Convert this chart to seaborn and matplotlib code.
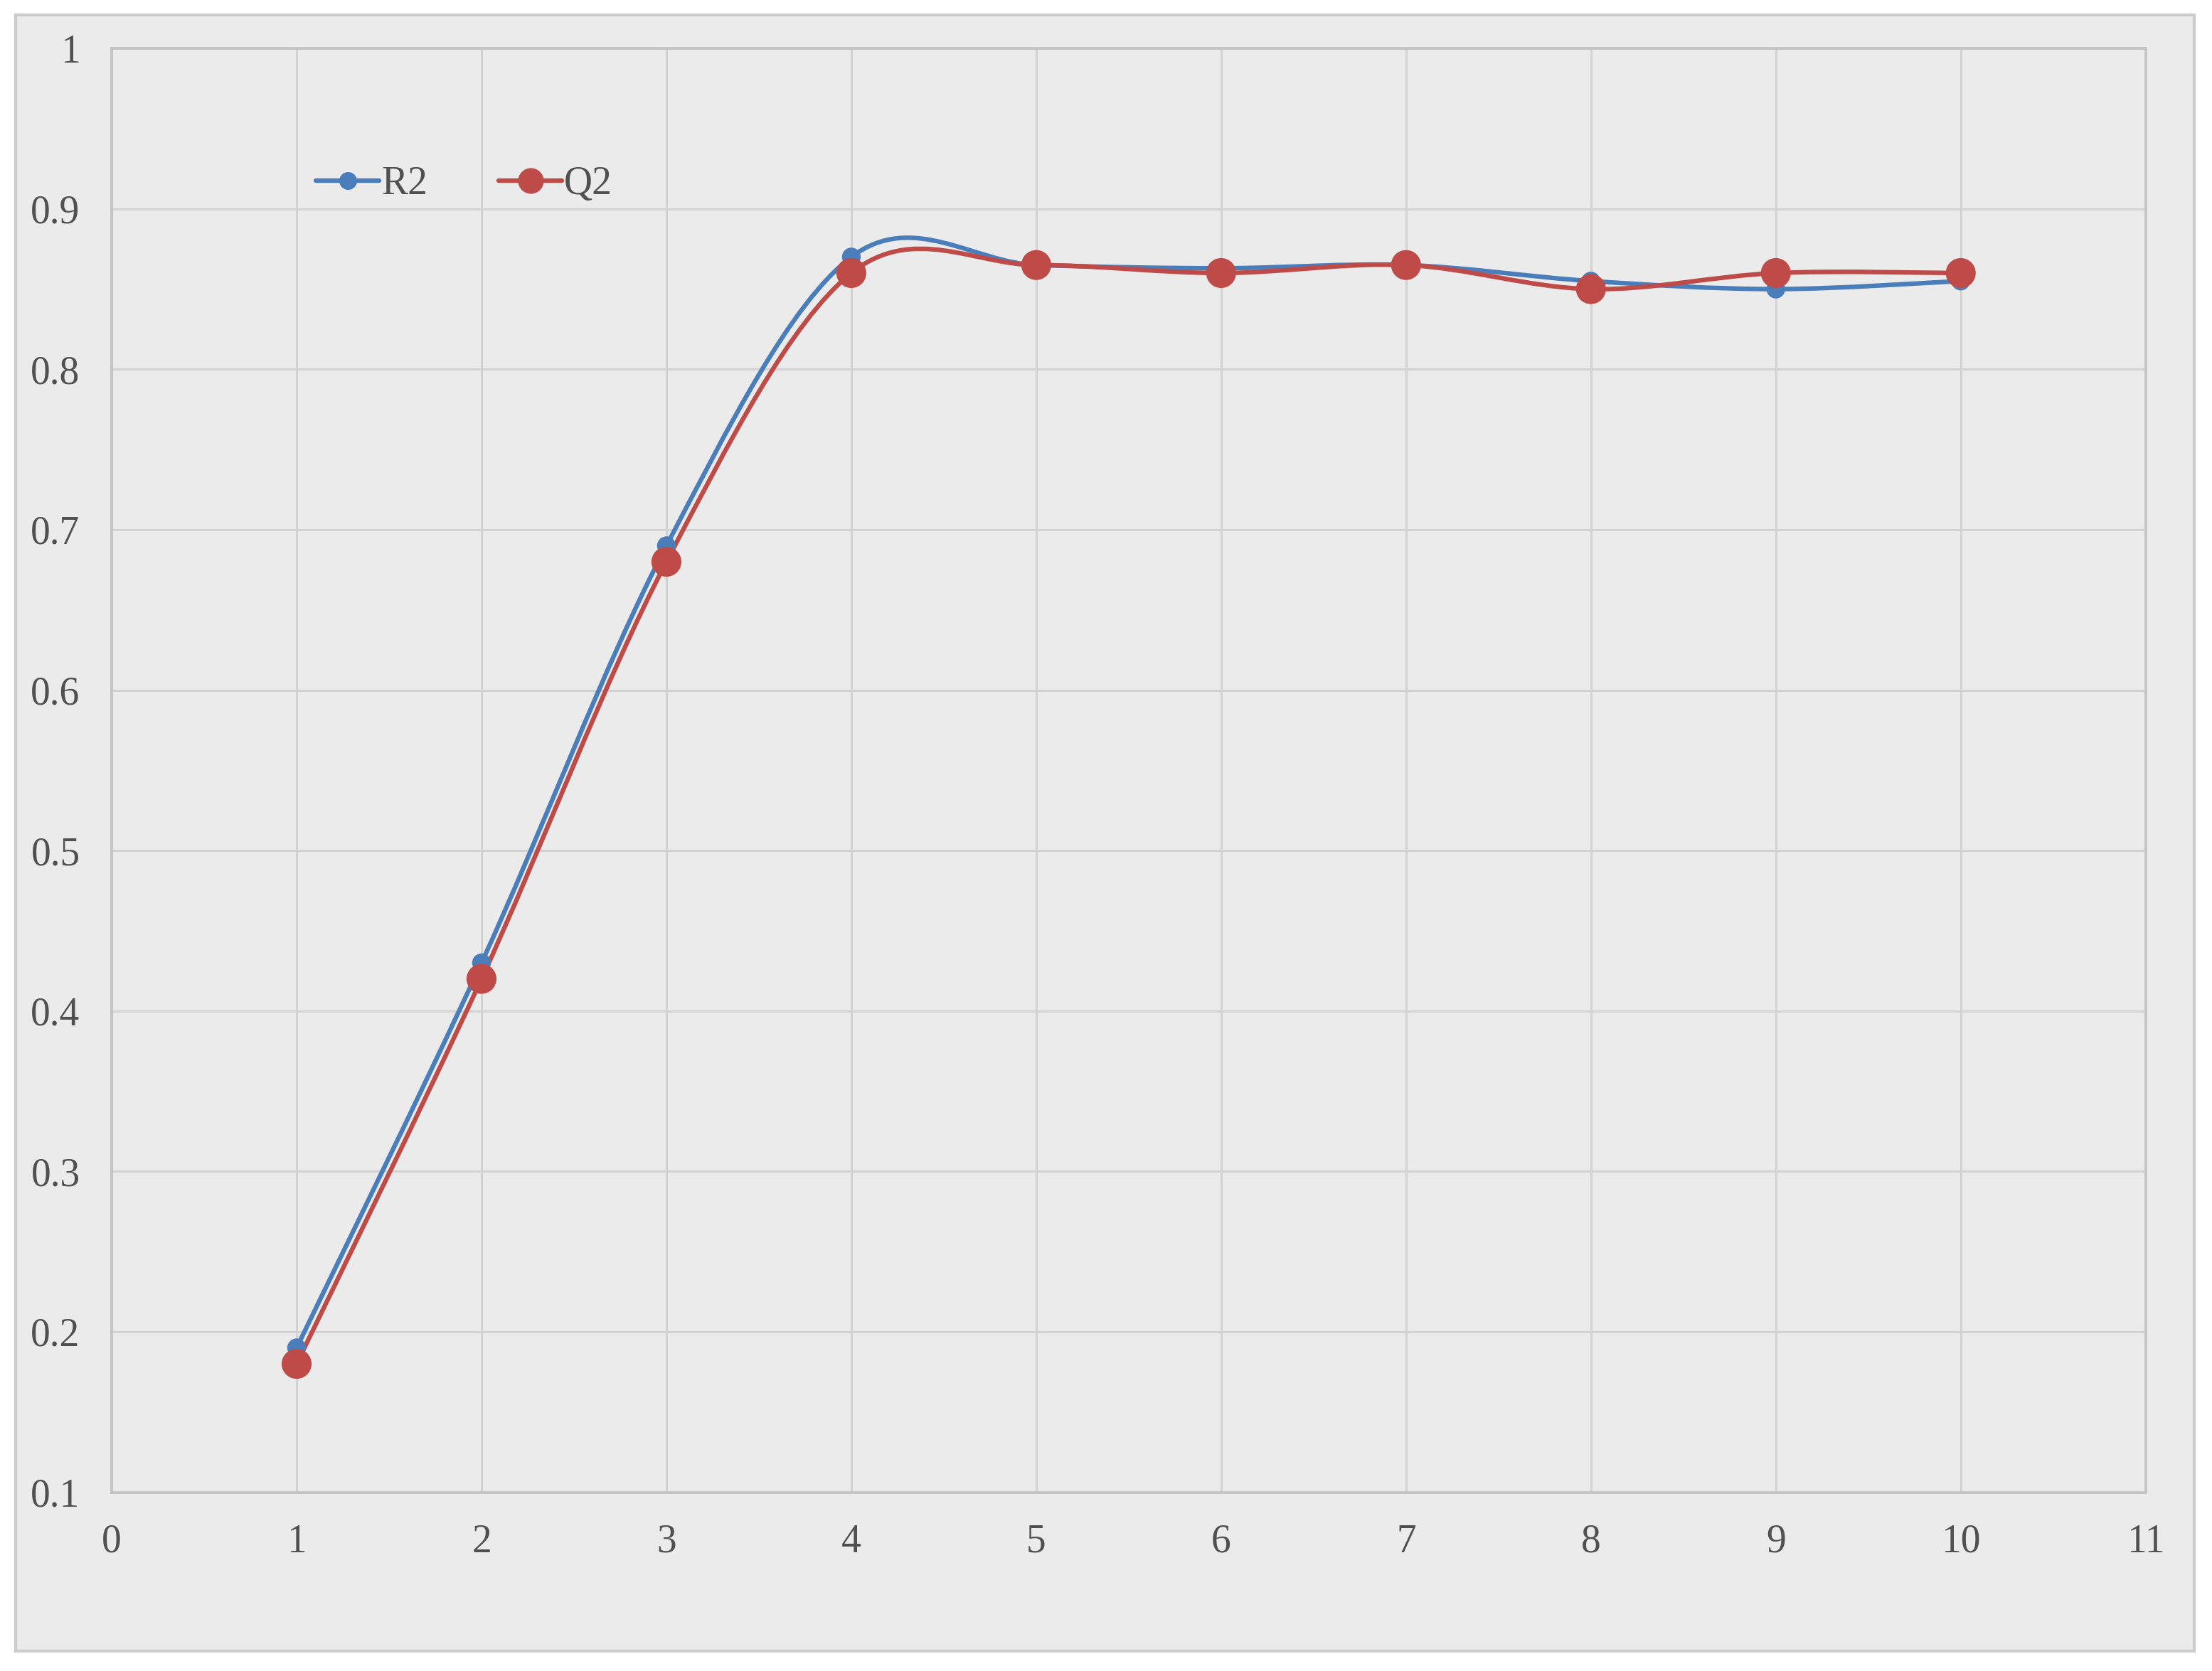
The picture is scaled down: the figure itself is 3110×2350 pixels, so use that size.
import numpy as np
import pandas as pd
import matplotlib
matplotlib.use("Agg")
import matplotlib.pyplot as plt
from matplotlib.path import Path
from matplotlib.patches import PathPatch, Rectangle
from matplotlib.lines import Line2D
import seaborn as sns

# data
components = [1, 2, 3, 4, 5, 6, 7, 8, 9, 10]
r2 = [0.19, 0.43, 0.69, 0.87, 0.865, 0.863, 0.865, 0.855, 0.85, 0.855]
q2 = [0.18, 0.42, 0.68, 0.86, 0.865, 0.86, 0.865, 0.85, 0.86, 0.86]
x_ticks = list(range(0, 12))
y_ticks = [0.1, 0.2, 0.3, 0.4, 0.5, 0.6, 0.7, 0.8, 0.9, 1.0]
y_labels = ["0.1", "0.2", "0.3", "0.4", "0.5", "0.6", "0.7", "0.8", "0.9", "1"]

blue = "#4A7EBB"
red = "#BE4B48"
bg = "#EBEBEB"
grid = "#D2D2D2"

sns.set_theme(style="whitegrid")
plt.rcParams["font.family"] = ["Liberation Serif", "DejaVu Serif"]

df = pd.DataFrame({
    "n": components * 2,
    "value": r2 + q2,
    "series": ["R2"] * len(r2) + ["Q2"] * len(q2),
})


def smooth_path(xs, ys):
    # excel style smoothed line: cubic bezier through every point
    pts = np.column_stack([xs, ys]).astype(float)
    verts = [pts[0]]
    codes = [Path.MOVETO]
    n = len(pts)
    for i in range(n - 1):
        p_prev = pts[i - 1] if i > 0 else pts[i]
        p_next2 = pts[i + 2] if i + 2 < n else pts[i + 1]
        c1 = pts[i] + (pts[i + 1] - p_prev) / 6
        c2 = pts[i + 1] - (p_next2 - pts[i]) / 6
        verts += [c1, c2, pts[i + 1]]
        codes += [Path.CURVE4] * 3
    return Path(verts, codes)


fig = plt.figure(figsize=(15.55, 11.75), dpi=200)
fig.patch.set_facecolor("white")
panel = Rectangle((0.007, 0.012), 0.985, 0.979, transform=fig.transFigure,
                  facecolor=bg, edgecolor="#CBCBCB", linewidth=1.5, zorder=-10)
fig.add_artist(panel)

ax = fig.add_axes([0.0505, 0.107, 0.9195, 0.864])
ax.set_facecolor(bg)

for vals, col in [(r2, blue), (q2, red)]:
    ax.add_patch(PathPatch(smooth_path(components, vals), facecolor="none",
                           edgecolor=col, linewidth=2.3, zorder=3))

sns.scatterplot(data=df[df.series == "R2"], x="n", y="value", color=blue, s=90,
                edgecolor="none", ax=ax, zorder=4, legend=False)
sns.scatterplot(data=df[df.series == "Q2"], x="n", y="value", color=red, s=230,
                edgecolor="none", ax=ax, zorder=5, legend=False)

ax.set_xlim(0, 11)
ax.set_ylim(0.1, 1.0)
ax.set_xticks(x_ticks)
ax.set_yticks(y_ticks)
ax.set_yticklabels(y_labels)
ax.set_xlabel("")
ax.set_ylabel("")
ax.grid(True, color=grid, linewidth=1.1)
ax.tick_params(axis="both", length=0, labelsize=20, colors="#505050")
ax.tick_params(axis="y", pad=16)
ax.tick_params(axis="x", pad=16)
for s in ax.spines.values():
    s.set_color("#C4C4C4")
    s.set_linewidth(1.4)

handles = [
    Line2D([], [], color=blue, linewidth=2.3, marker="o", markersize=8),
    Line2D([], [], color=red, linewidth=2.3, marker="o", markersize=12),
]
ax.legend(handles, ["R2", "Q2"], ncol=2, frameon=False, fontsize=20,
          loc="center left", bbox_to_anchor=(0.083, 0.906),
          handlelength=1.6, handletextpad=0.05, columnspacing=1.8,
          labelcolor="#505050")

fig.savefig("out.png", dpi=200, facecolor="white")
